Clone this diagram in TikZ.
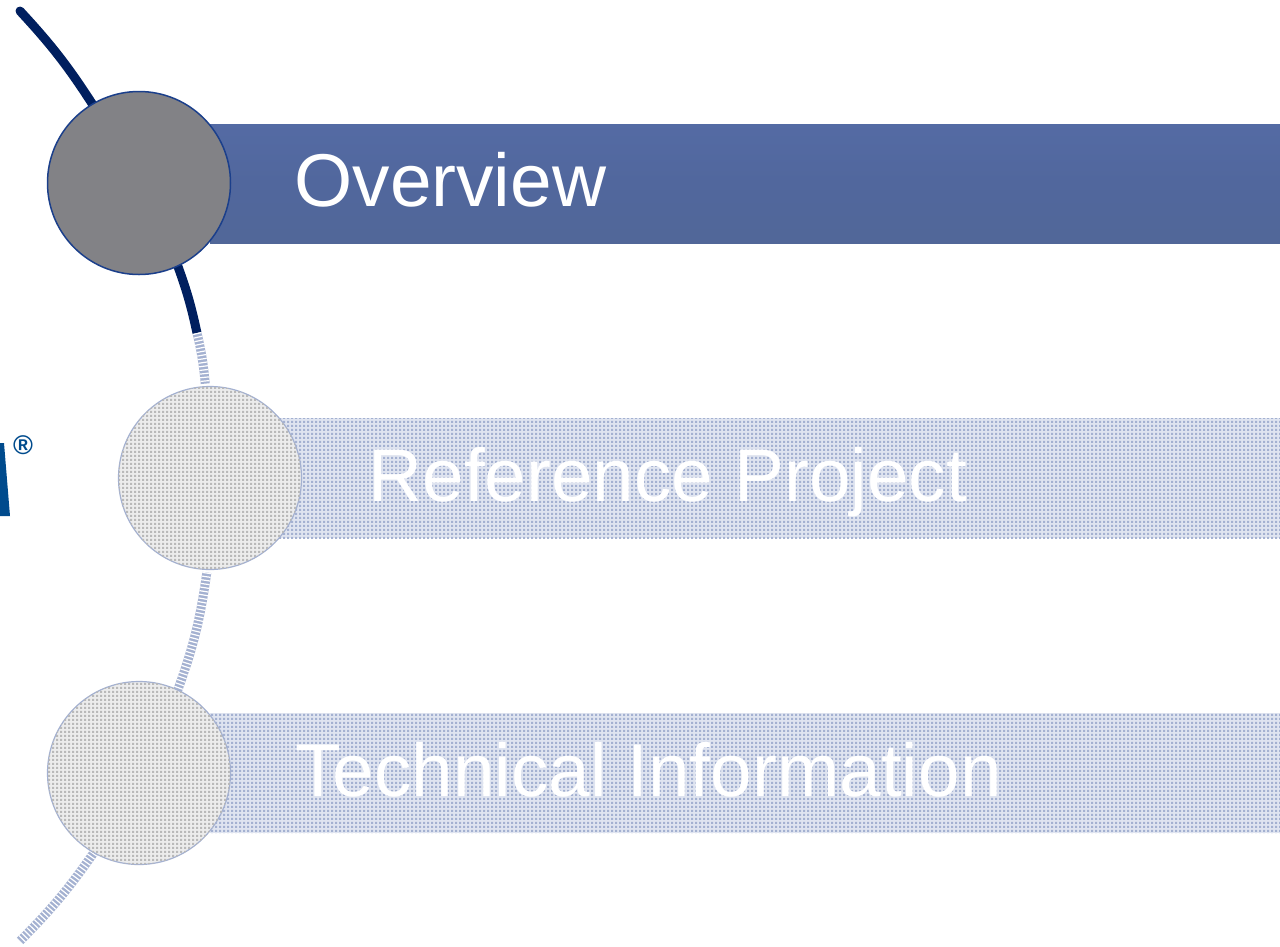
\documentclass[tikz,border=0pt]{standalone}
\usepackage{fontspec}
\setmainfont{Liberation Sans}
\usepackage{xcolor}
\usetikzlibrary{
arrows.meta,
shapes,
backgrounds,
patterns,
positioning
}
\definecolor{arcdark}{HTML}{001F5F}
\definecolor{logoblue}{HTML}{004B8D}
\definecolor{rimblue}{HTML}{1B3F8B}
\definecolor{dotblue}{HTML}{A4B1D1}
\definecolor{dotgrey}{HTML}{B9B9B9}
\definecolor{palebar}{HTML}{DFE4F0}
\definecolor{barA}{HTML}{A3AEC8}
\definecolor{barB}{HTML}{566791}
\definecolor{barC}{HTML}{516796}
\definecolor{barD}{HTML}{51679D}
\definecolor{barE}{HTML}{566DA8}
\definecolor{barF}{HTML}{5A73AF}
\definecolor{barG}{HTML}{9AA8CC}
\definecolor{discA}{HTML}{828286}
\definecolor{discB}{HTML}{7A7A7F}
\definecolor{discC}{HTML}{5F5F69}
\definecolor{fadeA}{HTML}{ECECEC}
\definecolor{fadeB}{HTML}{E4E4E6}
\pgfdeclarepatternformonly{halftone}{\pgfpointorigin}{\pgfpoint{3.7pt}{3.7pt}}{\pgfpoint{3.7pt}{3.7pt}}{
  \pgfpathrectangle{\pgfpointorigin}{\pgfpoint{2.4pt}{2.4pt}}
  \pgfusepath{fill}
}
\pgfdeclareverticalshading{barshade}{100bp}{
  color(0bp)=(barA); color(2bp)=(barB); color(12bp)=(barC);
  color(50bp)=(barD); color(90bp)=(barE); color(98bp)=(barF);
  color(100bp)=(barG)}
\pgfdeclareradialshading{discshade}{\pgfpointorigin}{
  color(0bp)=(discA); color(40bp)=(discA);
  color(47bp)=(discB); color(50bp)=(discC)}
\pgfdeclareradialshading{fadeshade}{\pgfpointorigin}{
  color(0bp)=(fadeA); color(42bp)=(fadeA); color(50bp)=(fadeB)}
\begin{document}
\begin{tikzpicture}[
    x=1pt, y=-1pt,
    every node/.style={inner sep=0pt, outer sep=0pt},
    title/.style={text=white, font=\fontsize{74.8}{75}\selectfont, anchor=base west},
    barbox/.style={rectangle, anchor=west, minimum width=1070pt},
    discbox/.style={circle, minimum size=183pt},
    activebar/.style={barbox, minimum height=119pt, shading=barshade},
    fadedbar/.style={barbox, minimum height=120pt, fill=palebar, postaction={pattern=halftone, pattern color=dotblue}},
    activedisc/.style={discbox, shading=discshade, draw=rimblue, line width=1.5pt},
    fadeddisc/.style={discbox, shading=fadeshade, draw=dotblue, line width=1.2pt, postaction={pattern=halftone, pattern color=dotgrey}},
    activearc/.style={draw=arcdark, line width=9pt},
    fadedarc/.style={dotblue, line width=9pt,
      postaction={draw=white, line width=9pt, line cap=butt, dash pattern=on 1.2pt off 2.5pt}}]
  \useasboundingbox (0,0) rectangle (1280,946);
  % bars
  \node[activebar] (barO) at (210,183.5) {};
  \node[fadedbar] (barR) at (210,478) {};
  \node[fadedbar] (barT) at (210,773) {};
  % discs
  \node[activedisc] (discO) at (139,183) {};
  \node[fadeddisc] (discR) at (210,478) {};
  \node[fadeddisc] (discT) at (139,773) {};
  % labels
  \node[title] (txtO) at (294.5,206.5) {Overview};
  \node[title] (txtR) at (368.5,501) {Reference Project};
  \node[title] (txtT) at (295,796) {Technical Information};
  % logo rest
  \fill[logoblue] (0,443) -- (4,443) -- (10,516) -- (0,516) -- cycle;
  \node[text=logoblue, font=\bfseries\fontsize{27}{27}\selectfont] (regmark) at (23,445) {®};
  % arc
  \coordinate (arcTop) at (20,11);
  \coordinate (arcMid) at (197,333);
  \coordinate (arcEnd) at (20,941);
  \begin{scope}[on background layer]
    \draw[activearc, line cap=round] (arcTop) to[bend left=5] ([shift={(-1,3)}]discO.119);
    \draw[activearc] ([shift={(-1,-3)}]discO.-65) to[bend left=4] (arcMid);
    \draw[fadedarc] (arcMid) to[bend left=4] ([yshift=3pt]discR.93);
    \draw[fadedarc] ([yshift=-3pt]discR.-92) to[bend left=6] ([shift={(-1,3)}]discT.65);
    \draw[fadedarc] ([shift={(1,-3)}]discT.241) to[bend left=5] (arcEnd);
  \end{scope}
\end{tikzpicture}
\end{document}
